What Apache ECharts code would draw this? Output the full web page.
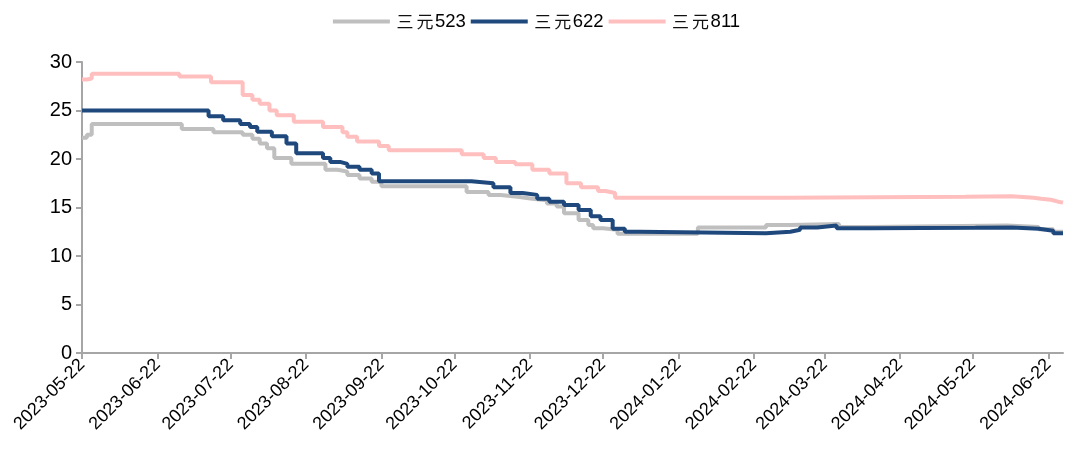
<!DOCTYPE html>
<html>
<head>
<meta charset="utf-8">
<script src="https://cdn.jsdelivr.net/npm/echarts@6/dist/echarts.min.js"></script>
<style>
html,body{margin:0;padding:0;background:#fff;}
#chart{width:1073px;height:464px;}
</style>
</head>
<body>
<div id="chart"></div>
<script>
// ---- data (change points; value holds until next date) ----
const seriesNames = ['三元523', '三元622', '三元811'];
const tickDates = ['2023-05-22','2023-06-22','2023-07-22','2023-08-22','2023-09-22','2023-10-22','2023-11-22','2023-12-22','2024-01-22','2024-02-22','2024-03-22','2024-04-22','2024-05-22','2024-06-22'];
const axisStart = '2023-05-22';
const axisEnd = '2024-06-28';

const dates523 = ['2023-05-22','2023-05-24','2023-05-26','2023-07-02','2023-07-15','2023-07-27','2023-07-31','2023-08-03','2023-08-06','2023-08-09','2023-08-16','2023-08-30','2023-09-04','2023-09-08','2023-09-13','2023-09-18','2023-09-22','2023-10-27','2023-11-05','2023-11-10','2023-11-17','2023-11-23','2023-11-29','2023-12-03','2023-12-06','2023-12-12','2023-12-16','2023-12-18','2023-12-22','2023-12-28','2024-01-30','2024-02-27','2024-03-08','2024-03-28','2024-04-10','2024-06-05','2024-06-18','2024-06-24','2024-06-28'];
const values523 = [22.2,22.5,23.6,23.1,22.75,22.5,22.1,21.6,21.1,20.1,19.5,18.9,18.7,18.35,18.0,17.65,17.2,16.6,16.3,16.1,15.9,15.75,15.4,15.1,14.4,13.7,13.2,12.85,12.7,12.3,12.95,13.2,13.3,13.0,13.15,13.0,12.75,12.5,12.5];

const dates622 = ['2023-05-22','2023-07-13','2023-07-19','2023-07-26','2023-07-30','2023-08-02','2023-08-08','2023-08-14','2023-08-18','2023-08-29','2023-09-01','2023-09-05','2023-09-08','2023-09-13','2023-09-18','2023-09-21','2023-10-29','2023-11-07','2023-11-14','2023-11-19','2023-11-25','2023-11-30','2023-12-06','2023-12-12','2023-12-17','2023-12-21','2023-12-26','2023-12-31','2024-01-06','2024-02-27','2024-03-08','2024-03-12','2024-03-19','2024-03-27','2024-04-10','2024-05-23','2024-06-07','2024-06-18','2024-06-24','2024-06-28'];
const values622 = [25.0,24.4,24.0,23.6,23.3,22.8,22.35,21.6,20.6,20.1,19.7,19.5,19.2,18.9,18.5,17.7,17.5,17.1,16.5,16.3,15.9,15.6,15.25,14.75,14.1,13.7,12.8,12.5,12.35,12.5,12.7,12.95,13.15,12.85,12.9,12.95,12.8,12.6,12.35,12.3];

const dates811 = ['2023-05-22','2023-05-24','2023-05-26','2023-07-01','2023-07-14','2023-07-27','2023-07-31','2023-08-03','2023-08-07','2023-08-10','2023-08-17','2023-08-29','2023-09-06','2023-09-08','2023-09-12','2023-09-21','2023-09-25','2023-10-25','2023-11-03','2023-11-08','2023-11-16','2023-11-23','2023-11-30','2023-12-07','2023-12-13','2023-12-20','2023-12-23','2023-12-27','2024-03-06','2024-05-19','2024-06-07','2024-06-16','2024-06-19','2024-06-23','2024-06-26','2024-06-28'];
const values811 = [28.2,28.3,28.8,28.5,27.9,26.6,26.1,25.7,25.0,24.5,23.85,23.3,22.75,22.3,21.8,21.35,20.9,20.5,20.1,19.7,19.45,18.9,18.5,17.5,17.1,16.7,16.5,16.0,16.1,16.15,16.0,15.9,15.8,15.6,15.5,15.5];

// ---- helpers ----
function toTs(s){ const p = s.split('-').map(Number); return Date.UTC(p[0], p[1]-1, p[2]); }
function pad(n){ return n < 10 ? '0' + n : '' + n; }
function fmt(v){ const d = new Date(v); return d.getUTCFullYear() + '-' + pad(d.getUTCMonth()+1) + '-' + pad(d.getUTCDate()); }
function pairs(ds, vs){ return ds.map((d,i) => [toTs(d), vs[i]]); }
function legendText(name){
  let out = '', ascii = '';
  for (const ch of name) {
    if (ch.charCodeAt(0) > 127) { if (ascii) { out += '{d|' + ascii + '}'; ascii = ''; } out += '{c|' + ch + '}'; }
    else ascii += ch;
  }
  if (ascii) out += '{d|' + ascii + '}';
  return out;
}

const colors = ['#bfbfbf', '#1f497d', '#ffbfbf'];
const allData = [pairs(dates523, values523), pairs(dates622, values622), pairs(dates811, values811)];
const tickTs = tickDates.map(toTs);
const baseFont = 'Liberation Sans, Arial, sans-serif';

const chart = echarts.init(document.getElementById('chart'), null, {renderer: 'canvas'});
chart.setOption({
  animation: false,
  color: colors,
  legend: {
    top: 7,
    left: 'center',
    icon: 'rect',
    itemWidth: 57,
    itemHeight: 4,
    itemGap: 5,
    formatter: legendText,
    textStyle: {
      color: '#000',
      rich: {
        c: {fontSize: 17, width: 20, align: 'center', color: '#111', fontFamily: 'Noto Sans CJK SC, sans-serif'},
        d: {fontSize: 18.5, color: '#000', fontFamily: baseFont}
      }
    },
    data: seriesNames
  },
  grid: {left: 82, right: 10, top: 62, bottom: 111},
  xAxis: {
    type: 'value',
    min: toTs(axisStart),
    max: toTs(axisEnd),
    axisLine: {show: true, lineStyle: {color: '#a6a6a6', width: 2}},
    axisTick: {show: true, customValues: tickTs, length: 6, lineStyle: {color: '#a6a6a6', width: 2}},
    axisLabel: {
      customValues: tickTs,
      rotate: 45,
      fontSize: 18,
      color: '#000',
      margin: 9,
      showMinLabel: true,
      showMaxLabel: true,
      fontFamily: baseFont,
      formatter: function(v){ return fmt(v); }
    },
    splitLine: {show: false}
  },
  yAxis: {
    type: 'value',
    min: 0,
    max: 30,
    interval: 5,
    axisLine: {show: true, lineStyle: {color: '#a6a6a6', width: 2}},
    axisTick: {show: true, length: 6, lineStyle: {color: '#a6a6a6', width: 2}},
    axisLabel: {fontSize: 20, color: '#000', margin: 10, fontFamily: baseFont},
    splitLine: {show: false}
  },
  series: seriesNames.map((n, i) => ({
    name: n,
    type: 'line',
    step: 'end',
    showSymbol: false,
    symbol: 'none',
    data: allData[i],
    lineStyle: {width: 4, color: colors[i]},
    z: i === 0 ? 2 : 3
  }))
});
</script>
</body>
</html>
